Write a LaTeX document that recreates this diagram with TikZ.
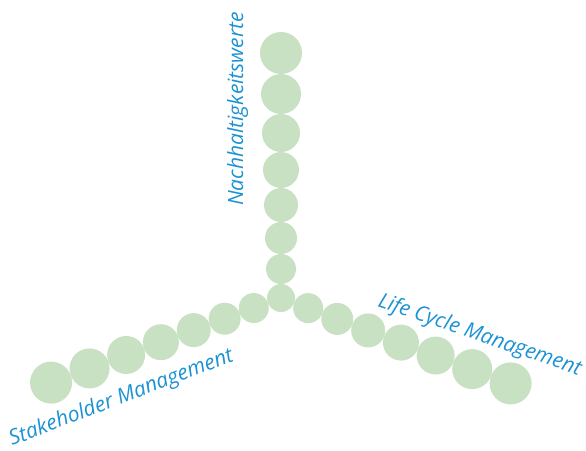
\documentclass[tikz,border=0pt]{standalone}
\usepackage{fontspec}
\setmainfont{Open Sans}
\usetikzlibrary{calc,positioning}
\usepackage{xcolor}
\definecolor{beadgreen}{RGB}{201,225,195}
\definecolor{lblblue}{RGB}{27,146,212}

\begin{document}
\begin{tikzpicture}[x=1pt,y=-1pt,
	bead/.style = {circle, fill=beadgreen, inner sep=0pt, minimum size=#1},
	lbl/.style = {text=lblblue, inner sep=0pt, anchor=base west, font=\itshape\fontsize{21}{21}\selectfont}]
	\useasboundingbox (0,0) rectangle (586,450);
	\node[bead=28pt] (c) at (281,298) {};
	\foreach \n/\d/\s in {1/29/30,2/60/32,3/93/34,4/128/36,5/165/38,6/204/40,7/245/42} {
		\node[bead=\s pt] (v\n) at ($(c)+(-90:\d)$) {};
		\node[bead=\s pt] (l\n) at ($(c)+(159.8:\d)$) {};
		\node[bead=\s pt] (r\n) at ($(c)+(20.4:\d)$) {};
	}
	\node[lbl, rotate=90] (nw) at (243,206) {Nachhaltigkeitswerte};
	\node[lbl, rotate=21] (sm) at (12,446) {Stakeholder Management};
	\node[lbl, rotate=-19] (lcm) at (377,306) {Life Cycle Management};
\end{tikzpicture}
\end{document}
